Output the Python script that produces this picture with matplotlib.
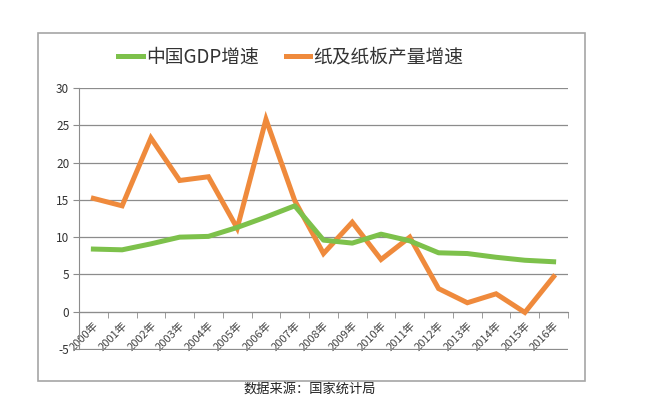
import matplotlib
matplotlib.use("Agg")
import matplotlib.pyplot as plt
from matplotlib.patches import Rectangle
import numpy as np

plt.rcParams['font.family'] = ['Noto Sans CJK SC', 'DejaVu Sans']

years = [f"{y}年" for y in range(2000, 2017)]
gdp = [8.4, 8.3, 9.1, 10.0, 10.1, 11.3, 12.7, 14.2, 9.6, 9.2, 10.4, 9.5, 7.9, 7.8, 7.3, 6.9, 6.7]
paper = [15.2, 14.2, 23.3, 17.6, 18.1, 11.2, 25.8, 14.9, 7.8, 12.0, 7.0, 10.0, 3.1, 1.2, 2.4, -0.1, 4.7]
yticks = [-5, 0, 5, 10, 15, 20, 25, 30]
label_gdp = "中国GDP增速"
label_paper = "纸及纸板产量增速"
source = "数据来源：国家统计局"

W, H = 672, 398
fig = plt.figure(figsize=(W / 100, H / 100), dpi=100)
fig.patch.set_facecolor('white')

# outer chart border
fig.patches.append(Rectangle((38 / W, 1 - 381 / H), (585 - 38) / W, (381 - 33) / H,
                             transform=fig.transFigure, fill=False,
                             edgecolor='#a6a6a6', linewidth=1.2))

ax = fig.add_axes([79 / W, 1 - 349.5 / H, (568 - 79) / W, (349.5 - 87.5) / H])
x = np.arange(len(years))
green = '#7dc14b'
orange = '#ef8a3c'
ax.plot(x, paper, color=orange, linewidth=3.6, solid_joinstyle='miter', label=label_paper, zorder=3)
ax.plot(x, gdp, color=green, linewidth=3.6, solid_joinstyle='round', label=label_gdp, zorder=4)

ax.set_xlim(-0.5, len(years) - 0.5)
ax.set_ylim(-5.07, 30.07)
ax.set_yticks(yticks)
ax.set_yticklabels([str(v) for v in yticks], fontsize=8.5, color='#333333')
ax.grid(axis='y', color='#8c8c8c', linewidth=0.9)
ax.set_axisbelow(True)

for s in ['top', 'right']:
    ax.spines[s].set_visible(False)
ax.spines['left'].set_color('#8c8c8c')
ax.spines['left'].set_bounds(-5, 30)
ax.spines['bottom'].set_position(('data', 0))
ax.spines['bottom'].set_color('#8c8c8c')
ax.tick_params(axis='y', length=4, color='#8c8c8c', pad=3)

ax.set_xticks(x)
ax.set_xticklabels(years, rotation=45, ha='right', va='top', rotation_mode='anchor',
                   fontsize=8, color='#444444')
ax.tick_params(axis='x', which='major', length=0, pad=6)
ax.set_xticks(np.arange(-0.5, len(years)), minor=True)
ax.tick_params(axis='x', which='minor', length=4, color='#8c8c8c', direction='out')

# legend
handles, labels = ax.get_legend_handles_labels()
leg = fig.legend([handles[1], handles[0]], [labels[1], labels[0]],
                 loc='center', bbox_to_anchor=(291 / W, 1 - 57 / H), ncol=2,
                 frameon=False, fontsize=13.5, handlelength=1.3, handletextpad=0.2,
                 columnspacing=1.4)
for t in leg.get_texts():
    t.set_color('#333333')

fig.text(310 / W, 1 - 389 / H, source, ha='center', va='center', fontsize=9.5, color='#222222')

fig.savefig('out.png', dpi=100, facecolor='white')
